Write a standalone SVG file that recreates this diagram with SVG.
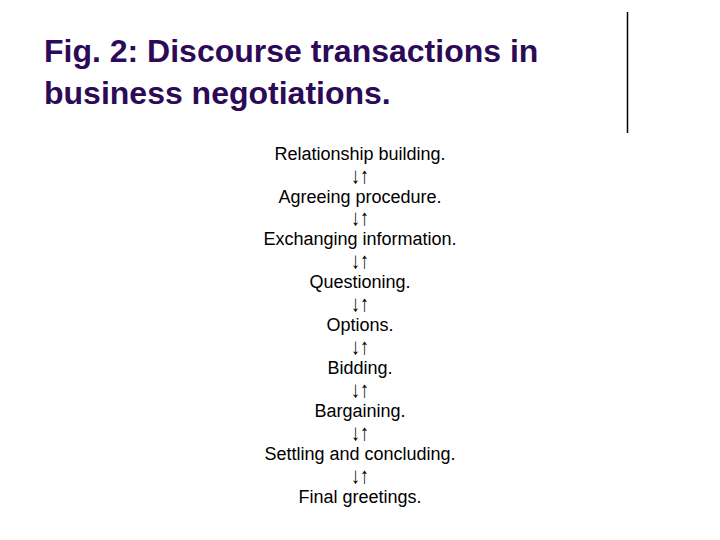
<svg xmlns="http://www.w3.org/2000/svg" width="720" height="540" viewBox="0 0 720 540">
<style>
.title{font-family:"Liberation Sans",Arial,sans-serif;font-weight:bold;font-size:32px;fill:#2c0a58}
.item{font-family:"Liberation Sans",Arial,sans-serif;font-size:18px;fill:#000;text-anchor:middle}
.arr{font-family:"Liberation Sans","DejaVu Sans",sans-serif;font-size:18px;fill:#000;text-anchor:middle}
</style>
<rect width="720" height="540" fill="#fff"/>
<line x1="627.5" y1="12" x2="627.5" y2="133" stroke="#000" stroke-width="1.5"/>
<g id="title">
<text class="title" x="44" y="62">Fig. 2: Discourse transactions in</text>
<text class="title" x="44" y="104">business negotiations.</text>
</g>
<g id="n1"><text class="item" x="360" y="160">Relationship building.</text></g>
<g id="n2"><text class="item" x="360" y="203">Agreeing procedure.</text></g>
<g id="n3"><text class="item" x="360" y="245">Exchanging information.</text></g>
<g id="n4"><text class="item" x="360" y="288">Questioning.</text></g>
<g id="n5"><text class="item" x="360" y="331">Options.</text></g>
<g id="n6"><text class="item" x="360" y="374">Bidding.</text></g>
<g id="n7"><text class="item" x="360" y="417">Bargaining.</text></g>
<g id="n8"><text class="item" x="360" y="460">Settling and concluding.</text></g>
<g id="n9"><text class="item" x="360" y="503">Final greetings.</text></g>
<g id="connectors">
<text class="arr" transform="translate(360,183) scale(1,1.25)">↓↑</text>
<text class="arr" transform="translate(360,225) scale(1,1.25)">↓↑</text>
<text class="arr" transform="translate(360,268) scale(1,1.25)">↓↑</text>
<text class="arr" transform="translate(360,311) scale(1,1.25)">↓↑</text>
<text class="arr" transform="translate(360,354) scale(1,1.25)">↓↑</text>
<text class="arr" transform="translate(360,397) scale(1,1.25)">↓↑</text>
<text class="arr" transform="translate(360,440) scale(1,1.25)">↓↑</text>
<text class="arr" transform="translate(360,483) scale(1,1.25)">↓↑</text>
</g>
</svg>
